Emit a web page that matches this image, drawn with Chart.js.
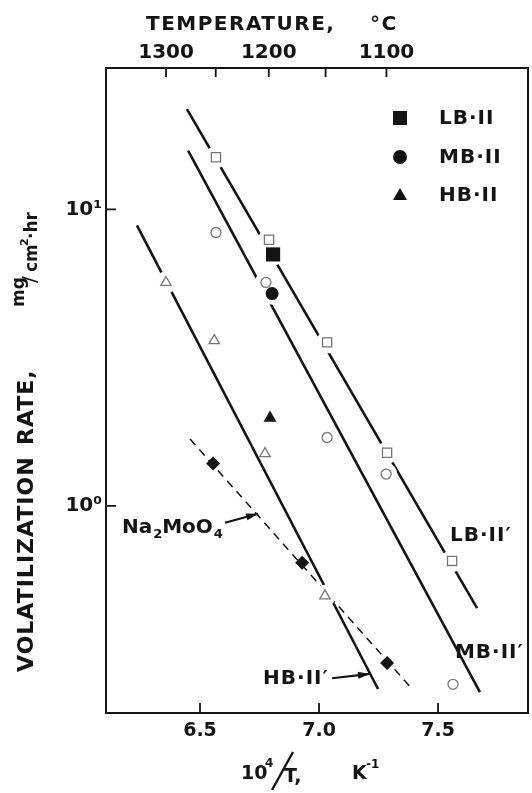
<!DOCTYPE html>
<html lang="en">
<head>
<meta charset="UTF-8">
<title>Volatilization rate vs reciprocal temperature</title>
<script src="https://cdn.jsdelivr.net/npm/chart.js"></script>
<style>
  html, body { margin: 0; padding: 0; background: #fff; }
  #wrap { width: 532px; height: 793px; }
</style>
</head>
<body>
<div id="wrap"><canvas id="rateChart"></canvas></div>
<script>
// fitted lines, two end points each (x = 10^4/T, y = mg/cm2·hr)
const lbFitX = [6.445, 7.664];
const lbFitY = [21.8, 0.452];
const mbFitX = [6.450, 7.676];
const mbFitY = [15.8, 0.235];
const hbFitX = [6.235, 7.248];
const hbFitY = [8.83, 0.241];
const naFitX = [6.458, 7.387];
const naFitY = [1.68, 0.243];

// measured points, open symbols
const lbOpenX = [6.567, 6.790, 7.034, 7.286, 7.559];
const lbOpenY = [15.0, 7.9, 3.56, 1.51, 0.652];
const mbOpenX = [6.567, 6.777, 7.034, 7.282, 7.563];
const mbOpenY = [8.36, 5.67, 1.70, 1.28, 0.25];
const hbOpenX = [6.357, 6.560, 6.773, 7.025];
const hbOpenY = [5.67, 3.61, 1.50, 0.497];

// measured points, filled symbols
const lbFilledX = [6.807];
const lbFilledY = [7.05];
const mbFilledX = [6.803];
const mbFilledY = [5.20];
const hbFilledX = [6.794];
const hbFilledY = [1.98];
const naX = [6.555, 6.929, 7.286];
const naY = [1.39, 0.642, 0.295];

// axes
const xTickValues = [6.5, 7.0, 7.5];
const yTickValues = [1, 10];
const yTickText = ['10\u2070', '10\u00B9'];
const tempTicks = [1300, 1250, 1200, 1150, 1100];
const tempLabels = [1300, 1200, 1100];

const ink = '#141414';
const faint = '#777';
const font = "'DejaVu Sans', sans-serif";

Chart.defaults.font.family = font;
Chart.defaults.color = ink;

const pts = (xs, ys) => xs.map((x, i) => ({ x, y: ys[i] }));

function fitLine(xs, ys, extra) {
  return Object.assign({
    data: pts(xs, ys), showLine: true, pointRadius: 0,
    borderColor: ink, borderWidth: 2.6, order: 3
  }, extra);
}

function marks(xs, ys, style, radius, filled) {
  return {
    data: pts(xs, ys), showLine: false, pointStyle: style, pointRadius: radius,
    pointBackgroundColor: filled ? ink : '#fff',
    pointBorderColor: filled ? ink : faint,
    pointBorderWidth: filled ? 0 : 1.3, order: 1
  };
}

// white patches that break the fitted lines where a symbol sits on them
const haloPts = [].concat(
  pts(lbOpenX, lbOpenY), pts(lbFilledX, lbFilledY),
  pts([mbOpenX[1], mbOpenX[3]], [mbOpenY[1], mbOpenY[3]]), pts(mbFilledX, mbFilledY),
  pts([hbOpenX[0], hbOpenX[3]], [hbOpenY[0], hbOpenY[3]])
);

function arrow(ctx, x0, y0, x1, y1) {
  const ang = Math.atan2(y1 - y0, x1 - x0);
  ctx.beginPath();
  ctx.moveTo(x0, y0);
  ctx.lineTo(x1, y1);
  ctx.stroke();
  ctx.beginPath();
  ctx.moveTo(x1, y1);
  ctx.lineTo(x1 - 12 * Math.cos(ang) + 3.5 * Math.sin(ang), y1 - 12 * Math.sin(ang) - 3.5 * Math.cos(ang));
  ctx.lineTo(x1 - 12 * Math.cos(ang) - 3.5 * Math.sin(ang), y1 - 12 * Math.sin(ang) + 3.5 * Math.cos(ang));
  ctx.closePath();
  ctx.fill();
}

const decorations = {
  id: 'decorations',
  afterDraw(chart) {
    const { ctx, chartArea: a, scales } = chart;
    const X = v => scales.x.getPixelForValue(v);
    const Y = v => scales.y.getPixelForValue(v);
    ctx.save();
    ctx.strokeStyle = ink;
    ctx.fillStyle = ink;

    // frame and inward tick marks
    ctx.lineWidth = 2;
    ctx.strokeRect(a.left, a.top, a.right - a.left, a.bottom - a.top);
    ctx.lineWidth = 1.8;
    ctx.beginPath();
    scales.x.ticks.forEach(t => {
      const x = X(t.value);
      ctx.moveTo(x, a.bottom); ctx.lineTo(x, a.bottom - 10);
    });
    scales.xTop.ticks.forEach(t => {
      const x = scales.xTop.getPixelForValue(t.value);
      ctx.moveTo(x, a.top); ctx.lineTo(x, a.top + 9);
    });
    scales.y.ticks.forEach(t => {
      const y = Y(t.value);
      ctx.moveTo(a.left, y); ctx.lineTo(a.left + 10, y);
    });
    ctx.stroke();

    ctx.textBaseline = 'alphabetic';
    ctx.textAlign = 'left';

    // top axis title
    ctx.letterSpacing = '1.5px';
    ctx.font = 'bold 20px ' + font;
    ctx.fillText('TEMPERATURE,', 146, 30);
    ctx.fillText('\u00B0C', 370, 30);

    // bottom axis title: 10^4/T, K^-1
    ctx.letterSpacing = '0px';
    ctx.font = 'bold 19px ' + font;
    ctx.fillText('10', 241, 779);
    ctx.font = 'bold 12px ' + font;
    ctx.fillText('4', 265, 767);
    ctx.lineWidth = 2.4;
    ctx.beginPath();
    ctx.moveTo(272, 790); ctx.lineTo(293, 752);
    ctx.stroke();
    ctx.font = 'bold 19px ' + font;
    ctx.fillText('T,', 284, 782);
    ctx.fillText('K', 352, 779);
    ctx.font = 'bold 12px ' + font;
    ctx.fillText('-1', 366, 768);

    // left axis title, rotated
    ctx.save();
    ctx.rotate(-Math.PI / 2);
    ctx.letterSpacing = '1px';
    ctx.font = 'bold 22px ' + font;
    ctx.fillText('VOLATILIZATION', -672, 33);
    ctx.fillText('RATE,', -445, 33);
    ctx.letterSpacing = '0px';
    ctx.font = 'bold 17px ' + font;
    ctx.fillText('mg', -307, 24);
    ctx.font = '20px ' + font;
    ctx.fillText('/', -283, 36);
    ctx.font = 'bold 17px ' + font;
    ctx.fillText('cm', -272, 37);
    ctx.font = 'bold 11px ' + font;
    ctx.fillText('2', -246, 28);
    ctx.font = 'bold 17px ' + font;
    ctx.fillText('\u00B7hr', -239, 37);
    ctx.restore();

    // legend for the filled symbols
    ctx.letterSpacing = '1px';
    ctx.font = 'bold 20px ' + font;
    ctx.textBaseline = 'middle';
    const lx = a.right - 128;
    ctx.fillRect(lx - 7, 111, 14, 14);
    ctx.beginPath(); ctx.arc(lx, 157, 7, 0, Math.PI * 2); ctx.fill();
    ctx.beginPath();
    ctx.moveTo(lx, 188); ctx.lineTo(lx + 7, 200); ctx.lineTo(lx - 7, 200);
    ctx.closePath(); ctx.fill();
    ctx.fillText('LB\u00B7II', lx + 39, 119);
    ctx.fillText('MB\u00B7II', lx + 39, 158);
    ctx.fillText('HB\u00B7II', lx + 39, 196);

    // line labels
    ctx.fillText('LB\u00B7II\u2032', X(7.550), Y(0.792));
    ctx.fillText('MB\u00B7II\u2032', X(7.571), Y(0.319));
    ctx.fillText('HB\u00B7II\u2032', X(6.765), Y(0.26));
    ctx.letterSpacing = '0px';
    const nx = X(6.172), ny = Y(0.843);
    ctx.fillText('Na', nx, ny);
    let w = ctx.measureText('Na').width;
    ctx.font = 'bold 13px ' + font;
    ctx.fillText('2', nx + w + 1, ny + 7);
    ctx.font = 'bold 20px ' + font;
    ctx.fillText('MoO', nx + w + 10, ny);
    w += 10 + ctx.measureText('MoO').width;
    ctx.font = 'bold 13px ' + font;
    ctx.fillText('4', nx + w + 1, ny + 7);

    ctx.lineWidth = 2.2;
    arrow(ctx, X(6.605), Y(0.877), X(6.744), Y(0.94));
    arrow(ctx, X(7.055), Y(0.262), X(7.214), Y(0.271));
    ctx.restore();
  }
};

// fixed-size horizontal axes without extra side padding for edge labels
function fixHeight(h) {
  return s => { s.height = h; s.paddingLeft = 0; s.paddingRight = 0; };
}

new Chart(document.getElementById('rateChart'), {
  type: 'scatter',
  data: {
    datasets: [
      fitLine(lbFitX, lbFitY),
      fitLine(mbFitX, mbFitY),
      fitLine(hbFitX, hbFitY),
      fitLine(naFitX, naFitY, { borderWidth: 1.5, borderDash: [8, 6] }),
      { data: haloPts, pointRadius: 11, pointBackgroundColor: '#fff', pointBorderWidth: 0, order: 2 },
      marks(lbOpenX, lbOpenY, 'rect', 6.5, false),
      marks(mbOpenX, mbOpenY, 'circle', 5, false),
      marks(hbOpenX, hbOpenY, 'triangle', 6, false),
      marks(lbFilledX, lbFilledY, 'rect', 10, true),
      marks(mbFilledX, mbFilledY, 'circle', 6.5, true),
      marks(hbFilledX, hbFilledY, 'triangle', 7.5, true),
      marks(naX, naY, 'rectRot', 7, true)
    ]
  },
  options: {
    responsive: true,
    maintainAspectRatio: false,
    animation: false,
    events: [],
    layout: { autoPadding: false, padding: { right: 4 } },
    plugins: { legend: { display: false }, tooltip: { enabled: false } },
    scales: {
      x: {
        type: 'linear', position: 'bottom', min: 6.105, max: 7.878,
        grid: { display: false, drawTicks: false }, border: { display: false },
        afterBuildTicks: s => { s.ticks = xTickValues.map(v => ({ value: v })); },
        afterFit: fixHeight(80),
        ticks: { padding: 7, font: { size: 19, weight: 'bold' }, callback: v => v.toFixed(1) }
      },
      xTop: {
        type: 'linear', axis: 'x', position: 'top', min: 6.105, max: 7.878,
        grid: { display: false, drawTicks: false }, border: { display: false },
        afterBuildTicks: s => { s.ticks = tempTicks.map(t => ({ value: 1e4 / (t + 273) })); },
        afterFit: fixHeight(68),
        ticks: {
          padding: 3, font: { size: 20, weight: 'bold' },
          callback: v => {
            const t = Math.round(1e4 / v - 273);
            return tempLabels.includes(t) ? String(t) : '';
          }
        }
      },
      y: {
        type: 'logarithmic', position: 'left', min: 0.2, max: 30,
        grid: { display: false, drawTicks: false }, border: { display: false },
        afterBuildTicks: s => { s.ticks = yTickValues.map(v => ({ value: v })); },
        afterFit: s => { s.width = 106; },
        ticks: {
          padding: 4, font: { size: 20, weight: 'bold' },
          callback: v => yTickText[yTickValues.indexOf(v)]
        }
      }
    }
  },
  plugins: [decorations]
});
</script>
</body>
</html>
